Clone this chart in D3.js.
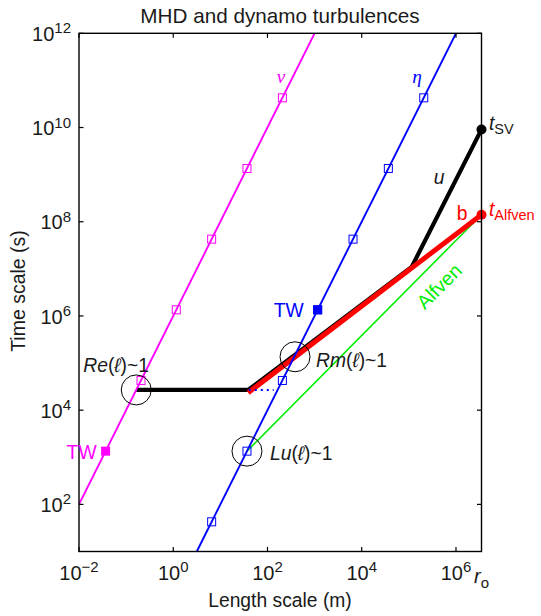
<!DOCTYPE html>
<html><head><meta charset="utf-8">
<script src="https://cdn.jsdelivr.net/npm/d3@7"></script>
<style>
html,body{margin:0;padding:0;background:#fff;}
svg{display:block;}
text{font-family:"Liberation Sans",Arial,Helvetica,sans-serif;}
</style></head>
<body><svg id="c" width="541" height="616"></svg>
<script>
// ---- data (length scale in m, time scale in s) ----
const xTicks = [1e-2, 1e0, 1e2, 1e4, 1e6];
const yTicks = [1e2, 1e4, 1e6, 1e8, 1e10, 1e12];
const nuLine = [[1e-2, 1e2], [1e3, 1e12]];
const etaLine = [[3.16, 1e1], [1e6, 1e12]];
const nuSquares = [[0.207, 4.27e4], [1.16, 1.35e6], [6.53, 4.27e7], [36.7, 1.35e9], [207, 4.27e10]];
const etaSquares = [[6.53, 42.7], [36.7, 1350], [207, 4.27e4], [1160, 1.35e6], [6530, 4.27e7], [36700, 1.35e9], [2.07e5, 4.27e10]];
const twNu = [[0.0367, 1350]];
const twEta = [[1160, 1.35e6]];
const uLine = [[0.164, 2.69e4], [38.9, 2.69e4], [1.15e5, 1.1e7], [3.48e6, 9.1e9]];
const bLine = [[38.9, 2.35e4], [3.48e6, 1.41e8]];
const alfvenLine = [[36.7, 1350], [3.48e6, 1.41e8]];
const etaDotted = [[40, 2.69e4], [135, 2.69e4]];
const circlePts = [[0.164, 2.69e4], [384, 1.36e5], [36.7, 1350]];
const tSV = [3.48e6, 9.1e9];
const tAlfven = [3.48e6, 1.41e8];

const svg = d3.select('#c');
const x = d3.scaleLog().domain([1e-2, 3.48e6]).range([79, 481.5]);
const y = d3.scaleLog().domain([1e1, 1e12]).range([551.5, 33.3]);
const line = d3.line().x(d => x(d[0])).y(d => y(d[1]));

const MAG = '#ff00ff', BLUE = '#0000ff', GREEN = '#00ee00', RED = '#ff0000';

svg.append('clipPath').attr('id', 'clip').append('rect')
  .attr('x', 79).attr('y', 33.3).attr('width', 402.5).attr('height', 518.2);
const g = svg.append('g').attr('clip-path', 'url(#clip)');

g.append('path').datum(alfvenLine).attr('d', line).attr('fill', 'none').attr('stroke', GREEN).attr('stroke-width', 1.6);
g.append('path').datum(uLine).attr('d', line).attr('fill', 'none').attr('stroke', '#000').attr('stroke-width', 4.2).attr('stroke-linejoin', 'miter');
g.append('path').datum(bLine).attr('d', line).attr('fill', 'none').attr('stroke', RED).attr('stroke-width', 5);
g.append('path').datum(etaDotted).attr('d', line).attr('fill', 'none').attr('stroke', BLUE).attr('stroke-width', 2).attr('stroke-dasharray', '2,4');
g.append('path').datum(nuLine).attr('d', line).attr('fill', 'none').attr('stroke', MAG).attr('stroke-width', 1.9);
g.append('path').datum(etaLine).attr('d', line).attr('fill', 'none').attr('stroke', BLUE).attr('stroke-width', 1.9);

const sq = 8;
g.selectAll('.nsq').data(nuSquares).enter().append('rect')
  .attr('x', d => x(d[0]) - sq / 2).attr('y', d => y(d[1]) - sq / 2).attr('width', sq).attr('height', sq)
  .attr('fill', 'none').attr('stroke', MAG).attr('stroke-width', 1);
g.selectAll('.esq').data(etaSquares).enter().append('rect')
  .attr('x', d => x(d[0]) - sq / 2).attr('y', d => y(d[1]) - sq / 2).attr('width', sq).attr('height', sq)
  .attr('fill', 'none').attr('stroke', BLUE).attr('stroke-width', 1);
const fs = 9;
g.selectAll('.tn').data(twNu).enter().append('rect')
  .attr('x', d => x(d[0]) - fs / 2).attr('y', d => y(d[1]) - fs / 2).attr('width', fs).attr('height', fs).attr('fill', MAG);
g.selectAll('.te').data(twEta).enter().append('rect')
  .attr('x', d => x(d[0]) - fs / 2).attr('y', d => y(d[1]) - fs / 2).attr('width', fs).attr('height', fs).attr('fill', BLUE);

svg.selectAll('.circ').data(circlePts).enter().append('circle')
  .attr('cx', d => x(d[0])).attr('cy', d => y(d[1])).attr('r', 15)
  .attr('fill', 'none').attr('stroke', '#000').attr('stroke-width', 1);

svg.append('circle').attr('cx', x(tSV[0])).attr('cy', y(tSV[1])).attr('r', 5).attr('fill', '#000');
svg.append('circle').attr('cx', x(tAlfven[0])).attr('cy', y(tAlfven[1])).attr('r', 5).attr('fill', RED);

// axes box
svg.append('rect').attr('x', 79).attr('y', 33.3).attr('width', 402.5).attr('height', 518.2)
  .attr('fill', 'none').attr('stroke', '#000').attr('stroke-width', 1.4);

const tl = 4.5;
xTicks.forEach(t => {
  svg.append('line').attr('x1', x(t)).attr('x2', x(t)).attr('y1', 551.5).attr('y2', 551.5 - tl).attr('stroke', '#000').attr('stroke-width', 1.2);
  svg.append('line').attr('x1', x(t)).attr('x2', x(t)).attr('y1', 33.3).attr('y2', 33.3 + tl).attr('stroke', '#000').attr('stroke-width', 1.2);
  const e = Math.round(Math.log10(t));
  const tx = svg.append('text').attr('x', x(t)).attr('y', 580).attr('text-anchor', 'middle').attr('font-size', 20).attr('fill', '#1a1a1a');
  tx.append('tspan').text('10');
  tx.append('tspan').attr('dy', -7.7).attr('font-size', 15).text(e < 0 ? '\u2212' + (-e) : String(e));
});
yTicks.forEach(t => {
  svg.append('line').attr('x1', 79).attr('x2', 79 + tl).attr('y1', y(t)).attr('y2', y(t)).attr('stroke', '#000').attr('stroke-width', 1.2);
  svg.append('line').attr('x1', 481.5).attr('x2', 481.5 - tl).attr('y1', y(t)).attr('y2', y(t)).attr('stroke', '#000').attr('stroke-width', 1.2);
  const e = Math.round(Math.log10(t));
  const tx = svg.append('text').attr('x', 71).attr('y', y(t) + 7.7).attr('text-anchor', 'end').attr('font-size', 20).attr('fill', '#1a1a1a');
  tx.append('tspan').text('10');
  tx.append('tspan').attr('dy', -7.7).attr('font-size', 15).text(String(e));
});

// r_o after 10^6
const ro = svg.append('text').attr('x', 474).attr('y', 583).attr('font-size', 20).attr('fill', '#1a1a1a');
ro.append('tspan').attr('font-style', 'italic').text('r');
ro.append('tspan').attr('dy', 5).attr('font-size', 15).text('o');

// titles
svg.append('text').attr('x', 280).attr('y', 22.5).attr('text-anchor', 'middle').attr('font-size', 20.7).attr('fill', '#1a1a1a').text('MHD and dynamo turbulences');
svg.append('text').attr('x', 280).attr('y', 607).attr('text-anchor', 'middle').attr('font-size', 19.3).attr('fill', '#1a1a1a').text('Length scale (m)');
svg.append('text').attr('transform', 'translate(25,291) rotate(-90)').attr('text-anchor', 'middle').attr('font-size', 19.5).attr('fill', '#1a1a1a').text('Time scale (s)');

// annotations
function lab(px, py, parts, color, anchor) {
  const t = svg.append('text').attr('x', px).attr('y', py).attr('font-size', 19.3).attr('fill', color || '#1a1a1a').attr('text-anchor', anchor || 'start');
  parts.forEach(p => {
    const s = t.append('tspan').text(p.t);
    if (p.i) s.attr('font-style', 'italic');
    if (p.s) s.attr('font-size', p.s);
    if (p.dy) s.attr('dy', p.dy);
    if (p.f) s.attr('font-family', p.f);
  });
  return t;
}
lab(x(circlePts[0][0]) - 53, y(circlePts[0][1]) - 18, [{t: 'Re', i: 1}, {t: '('}, {t: 'ℓ', i: 1}, {t: ')~1'}]);
lab(x(circlePts[1][0]) + 21, y(circlePts[1][1]) + 10.5, [{t: 'Rm', i: 1}, {t: '('}, {t: 'ℓ', i: 1}, {t: ')~1'}]);
lab(x(circlePts[2][0]) + 23, y(circlePts[2][1]) + 8.5, [{t: 'Lu', i: 1}, {t: '('}, {t: 'ℓ', i: 1}, {t: ')~1'}]);
lab(x(twNu[0][0]) - 9, y(twNu[0][1]) + 7.5, [{t: 'TW'}], MAG, 'end');
lab(x(twEta[0][0]) - 14, y(twEta[0][1]) + 7.5, [{t: 'TW'}], BLUE, 'end');
lab(281, 83, [{t: 'ν', i: 1, f: '"Liberation Serif","DejaVu Serif",serif'}], MAG, 'middle');
lab(417, 83, [{t: 'η', i: 1, f: '"Liberation Serif","DejaVu Serif",serif'}], BLUE, 'middle');
lab(439, 184, [{t: 'u', i: 1}], '#1a1a1a', 'middle');
lab(462, 220, [{t: 'b'}], RED, 'middle');
lab(489, 130, [{t: 't', i: 1}, {t: 'SV', s: 14.5, dy: 4}], '#1a1a1a');
lab(489, 216, [{t: 't', i: 1}, {t: 'Alfven', s: 14.5, dy: 4}], RED);
svg.append('text').attr('transform', 'translate(444,291) rotate(-45)').attr('text-anchor', 'middle')
  .attr('font-size', 19.5).attr('fill', GREEN).text('Alfven');
</script></body></html>
